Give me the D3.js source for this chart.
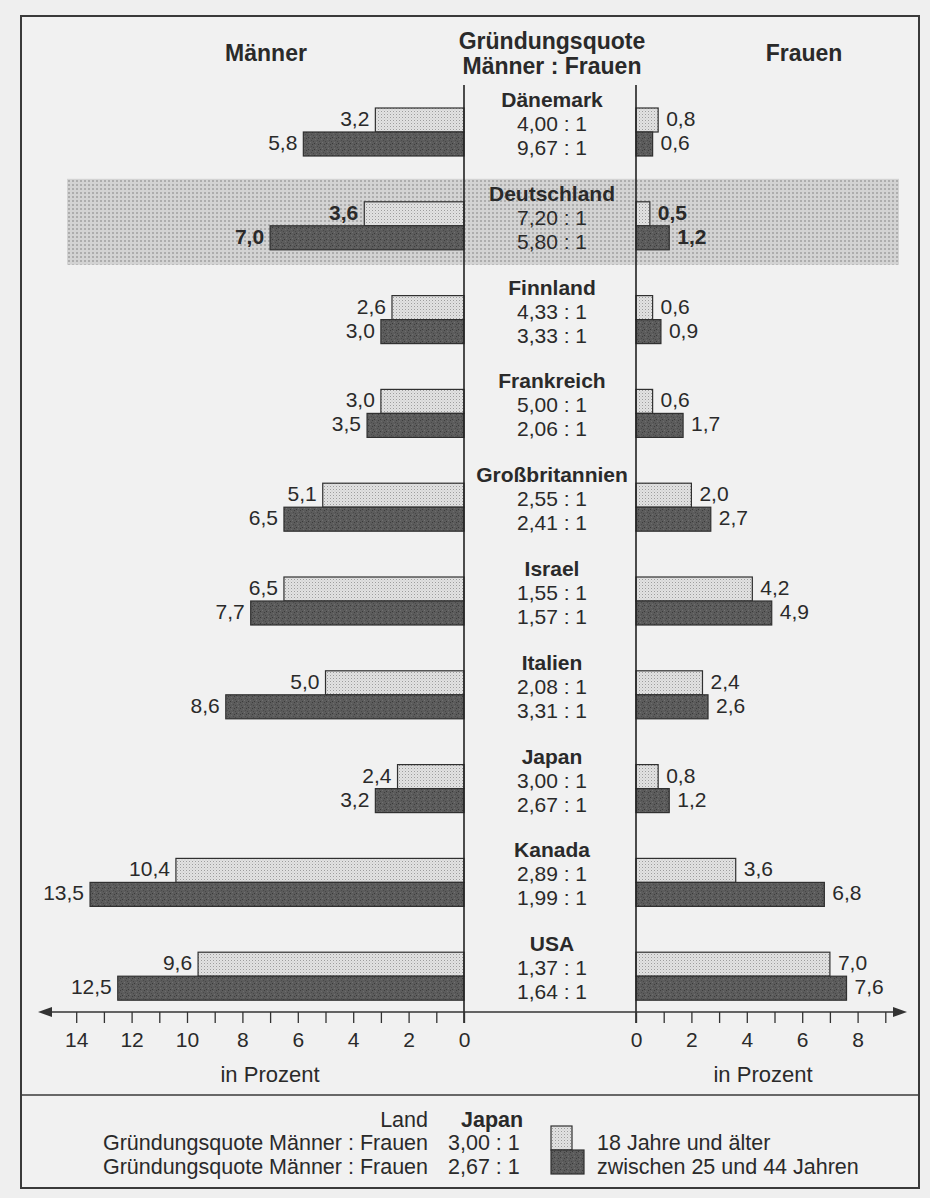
<!DOCTYPE html>
<html><head><meta charset="utf-8">
<script src="https://cdn.jsdelivr.net/npm/d3@7/dist/d3.min.js"></script>
<style>
html,body{margin:0;padding:0;background:#efefef;}
svg{display:block;font-family:"Liberation Sans",Arial,Helvetica,sans-serif;}
</style></head>
<body><svg id="c" width="930" height="1198"></svg>
<script>
const countries = ["Dänemark","Deutschland","Finnland","Frankreich","Großbritannien","Israel","Italien","Japan","Kanada","USA"];
const menAdult  = [3.2, 3.6, 2.6, 3.0, 5.1, 6.5, 5.0, 2.4, 10.4, 9.6];
const menYoung  = [5.8, 7.0, 3.0, 3.5, 6.5, 7.7, 8.6, 3.2, 13.5, 12.5];
const womenAdult= [0.8, 0.5, 0.6, 0.6, 2.0, 4.2, 2.4, 0.8, 3.6, 7.0];
const womenYoung= [0.6, 1.2, 0.9, 1.7, 2.7, 4.9, 2.6, 1.2, 6.8, 7.6];
const ratioAdult= [4.00, 7.20, 4.33, 5.00, 2.55, 1.55, 2.08, 3.00, 2.89, 1.37];
const ratioYoung= [9.67, 5.80, 3.33, 2.06, 2.41, 1.57, 3.31, 2.67, 1.99, 1.64];
const highlighted = "Deutschland";
const legendCountry = "Japan";
const leftTicks = d3.range(0, 15);
const rightTicks = d3.range(0, 10);
const seriesLabels = ["18 Jahre und älter","zwischen 25 und 44 Jahren"];

const svg = d3.select("#c");
const FONT = '"Liberation Sans",Arial,Helvetica,sans-serif';
const TXT = "#2a2a2a";
const fmt1 = v => d3.format(".1f")(v).replace(".", ",");
const fmtR = v => d3.format(".2f")(v).replace(".", ",") + " : 1";

// patterns
const defs = svg.append("defs");
const pl = defs.append("pattern").attr("id","pLight").attr("patternUnits","userSpaceOnUse").attr("width",3).attr("height",3);
pl.append("rect").attr("width",3).attr("height",3).attr("fill","#e2e2e2");
pl.append("rect").attr("x",0).attr("y",0).attr("width",1).attr("height",1).attr("fill","#9d9d9d");
pl.append("rect").attr("x",1.5).attr("y",1.5).attr("width",1).attr("height",1).attr("fill","#c4c4c4");
const pd = defs.append("pattern").attr("id","pDark").attr("patternUnits","userSpaceOnUse").attr("width",6).attr("height",6);
pd.append("rect").attr("width",6).attr("height",6).attr("fill","#5c5c5c");
[[0,0,"#3e3e3e"],[3,1,"#6c6c6c"],[1,3,"#474747"],[4,4,"#707070"],[2,5,"#3a3a3a"],[5,2,"#4a4a4a"]].forEach(([x,y,c])=>
  pd.append("rect").attr("x",x).attr("y",y).attr("width",1).attr("height",1).attr("fill",c));
const pb = defs.append("pattern").attr("id","pBand").attr("patternUnits","userSpaceOnUse").attr("width",4).attr("height",4);
pb.append("rect").attr("width",4).attr("height",4).attr("fill","#d3d3d3");
pb.append("rect").attr("x",0).attr("y",0).attr("width",2).attr("height",2).attr("fill","#b4b4b4");
pb.append("rect").attr("x",0.5).attr("y",0.5).attr("width",1).attr("height",1).attr("fill","#9a9a9a");

// frame
svg.append("rect").attr("x",21).attr("y",16).attr("width",898).attr("height",1172)
  .attr("fill","#f1f1f1").attr("stroke","#3a3a3a").attr("stroke-width",2);
svg.append("line").attr("x1",21).attr("x2",919).attr("y1",1095).attr("y2",1095).attr("stroke","#3a3a3a").attr("stroke-width",1.5);

// scales
const unit = 27.7;
const xL = d3.scaleLinear().domain([0, 14]).range([464, 464 - 14*unit]);
const xR = d3.scaleLinear().domain([0, 9]).range([636, 636 + 9*unit]);
const y = d3.scaleBand().domain(countries).range([84, 84 + 93.8*countries.length]);
const barH = 24;

// highlight band
const hb = y(highlighted);
svg.append("rect").attr("x",67).attr("y",hb+1).attr("width",832).attr("height",86).attr("fill","url(#pBand)");

// headers
const hdr = svg.append("g").attr("font-family",FONT).attr("font-weight","bold").attr("fill",TXT).attr("text-anchor","middle");
hdr.append("text").attr("x",266).attr("y",61).attr("font-size",23).text("Männer");
hdr.append("text").attr("x",804).attr("y",61).attr("font-size",23).text("Frauen");
hdr.append("text").attr("x",552).attr("y",49).attr("font-size",23).text("Gründungsquote");
hdr.append("text").attr("x",552).attr("y",74).attr("font-size",23).text("Männer : Frauen");

// rows
const rows = svg.append("g").selectAll("g").data(countries).join("g");
rows.each(function(c, i){
  const g = d3.select(this);
  const top = y(c);
  const bold = c === highlighted ? "bold" : "normal";
  const bars = [
    {side:"L", v:menAdult[i], yy:top+24, fill:"url(#pLight)"},
    {side:"L", v:menYoung[i], yy:top+48, fill:"url(#pDark)"},
    {side:"R", v:womenAdult[i], yy:top+24, fill:"url(#pLight)"},
    {side:"R", v:womenYoung[i], yy:top+48, fill:"url(#pDark)"}
  ];
  bars.forEach(b => {
    const x0 = b.side==="L" ? xL(b.v) : xR(0);
    const w = b.side==="L" ? xL(0)-xL(b.v) : xR(b.v)-xR(0);
    g.append("rect").attr("x",x0).attr("y",b.yy).attr("width",w).attr("height",barH)
      .attr("fill",b.fill).attr("stroke","#303030").attr("stroke-width",1.2);
    g.append("text").attr("font-family",FONT).attr("font-size",21).attr("font-weight",bold).attr("fill",TXT)
      .attr("x", b.side==="L" ? xL(b.v)-6 : xR(b.v)+8)
      .attr("y", b.yy + barH/2 + 6)
      .attr("text-anchor", b.side==="L" ? "end" : "start")
      .text(fmt1(b.v));
  });
  g.append("text").attr("font-family",FONT).attr("font-size",21).attr("font-weight","bold").attr("fill",TXT)
    .attr("text-anchor","middle").attr("x",552).attr("y",top+23).text(c);
  g.append("text").attr("font-family",FONT).attr("font-size",21).attr("fill",TXT)
    .attr("text-anchor","middle").attr("x",552).attr("y",top+47).text(fmtR(ratioAdult[i]));
  g.append("text").attr("font-family",FONT).attr("font-size",21).attr("fill",TXT)
    .attr("text-anchor","middle").attr("x",552).attr("y",top+71).text(fmtR(ratioYoung[i]));
});

// center vertical lines
const axisY = 1012;
[xL(0), xR(0)].forEach(x => svg.append("line").attr("x1",x).attr("x2",x).attr("y1",85).attr("y2",axisY+11)
  .attr("stroke","#222").attr("stroke-width",1.6));

// axes
const axL = d3.axisBottom(xL).tickValues(leftTicks).tickFormat(d => d%2===0 ? d : "").tickSize(11).tickPadding(9);
const axR = d3.axisBottom(xR).tickValues(rightTicks).tickFormat(d => d%2===0 ? d : "").tickSize(11).tickPadding(9);
[axL, axR].forEach(ax => {
  const g = svg.append("g").attr("transform",`translate(0,${axisY})`).call(ax);
  g.select(".domain").remove();
  g.selectAll(".tick line").attr("stroke","#333").attr("stroke-width",1.3);
  g.selectAll(".tick text").attr("font-family",FONT).attr("font-size",21).attr("fill",TXT);
});
svg.append("line").attr("x1",44).attr("x2",900).attr("y1",axisY).attr("y2",axisY).attr("stroke","#333").attr("stroke-width",1.6);
svg.append("path").attr("d",`M38,${axisY} L52,${axisY-5} L52,${axisY+5} Z`).attr("fill","#333");
svg.append("path").attr("d",`M907,${axisY} L893,${axisY-5} L893,${axisY+5} Z`).attr("fill","#333");

svg.append("text").attr("font-family",FONT).attr("font-size",22).attr("fill",TXT).attr("text-anchor","middle")
  .attr("x",270).attr("y",1082).text("in Prozent");
svg.append("text").attr("font-family",FONT).attr("font-size",22).attr("fill",TXT).attr("text-anchor","middle")
  .attr("x",763).attr("y",1082).text("in Prozent");

// legend
const li = countries.indexOf(legendCountry);
const lg = svg.append("g").attr("font-family",FONT).attr("font-size",21.5).attr("fill",TXT);
lg.append("text").attr("x",428).attr("y",1127).attr("text-anchor","end").text("Land");
lg.append("text").attr("x",461).attr("y",1127).attr("font-weight","bold").text(legendCountry);
lg.append("text").attr("x",428).attr("y",1150).attr("text-anchor","end").text("Gründungsquote Männer : Frauen");
lg.append("text").attr("x",428).attr("y",1174).attr("text-anchor","end").text("Gründungsquote Männer : Frauen");
lg.append("text").attr("x",448).attr("y",1150).text(fmtR(ratioAdult[li]));
lg.append("text").attr("x",448).attr("y",1174).text(fmtR(ratioYoung[li]));
svg.append("rect").attr("x",551).attr("y",1126).attr("width",21).attr("height",24).attr("fill","url(#pLight)").attr("stroke","#303030").attr("stroke-width",1.2);
svg.append("rect").attr("x",551).attr("y",1150).attr("width",33).attr("height",24).attr("fill","url(#pDark)").attr("stroke","#303030").attr("stroke-width",1.2);
lg.append("text").attr("x",597).attr("y",1150).text(seriesLabels[0]);
lg.append("text").attr("x",597).attr("y",1174).text(seriesLabels[1]);
</script></body></html>
